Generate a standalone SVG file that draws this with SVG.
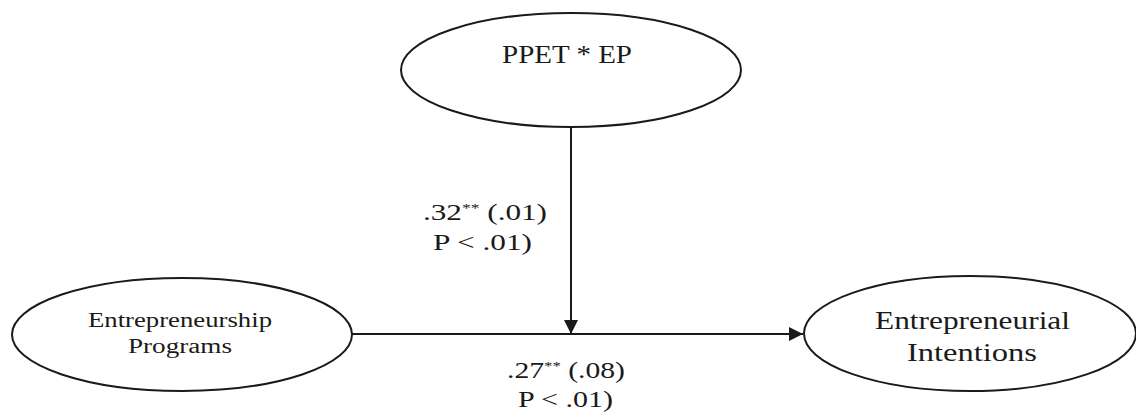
<svg xmlns="http://www.w3.org/2000/svg" width="1136" height="412" viewBox="0 0 1136 412">
<style>
.node{fill:#fff;stroke:#1a1a1a;stroke-width:2}
.t{font-family:"Liberation Serif","Times New Roman","DejaVu Serif",serif;fill:#1a1a1a}
.edge{stroke:#1a1a1a;stroke-width:2;fill:none}
.sup{font-size:13px}
</style>
<defs>
<marker id="ah" markerWidth="14" markerHeight="14" refX="14" refY="7" orient="auto" markerUnits="userSpaceOnUse">
<path d="M0,0 L14,7 L0,14 Z" fill="#1a1a1a"/>
</marker>
</defs>
<g id="connectors">
<line class="edge" x1="571" y1="127" x2="571" y2="334" marker-end="url(#ah)"/>
<line class="edge" x1="352" y1="334" x2="803" y2="334" marker-end="url(#ah)"/>
<text class="t" x="423" y="220" font-size="23" textLength="124" lengthAdjust="spacingAndGlyphs">.32<tspan class="sup" dy="-8">**</tspan><tspan dy="8"> (.01)</tspan></text>
<text class="t" x="433" y="250" font-size="23" textLength="99" lengthAdjust="spacingAndGlyphs">P &lt; .01)</text>
<text class="t" x="507" y="378" font-size="23" textLength="118" lengthAdjust="spacingAndGlyphs">.27<tspan class="sup" dy="-8">**</tspan><tspan dy="8"> (.08)</tspan></text>
<text class="t" x="518" y="407" font-size="23" textLength="95" lengthAdjust="spacingAndGlyphs">P &lt; .01)</text>
</g>
<g id="node-ppet">
<ellipse class="node" cx="571" cy="70" rx="170" ry="57"/>
<text class="t" x="502" y="63" font-size="26" textLength="130" lengthAdjust="spacingAndGlyphs">PPET * EP</text>
</g>
<g id="node-ep">
<ellipse class="node" cx="182" cy="334.5" rx="170" ry="56.5"/>
<text class="t" x="88" y="327" font-size="20" textLength="184" lengthAdjust="spacingAndGlyphs">Entrepreneurship</text>
<text class="t" x="128" y="353" font-size="20" textLength="104" lengthAdjust="spacingAndGlyphs">Programs</text>
</g>
<g id="node-ei">
<ellipse class="node" cx="970" cy="333.5" rx="166" ry="57.5"/>
<text class="t" x="875" y="329" font-size="25" textLength="195" lengthAdjust="spacingAndGlyphs">Entrepreneurial</text>
<text class="t" x="907" y="361" font-size="25" textLength="130" lengthAdjust="spacingAndGlyphs">Intentions</text>
</g>
</svg>
